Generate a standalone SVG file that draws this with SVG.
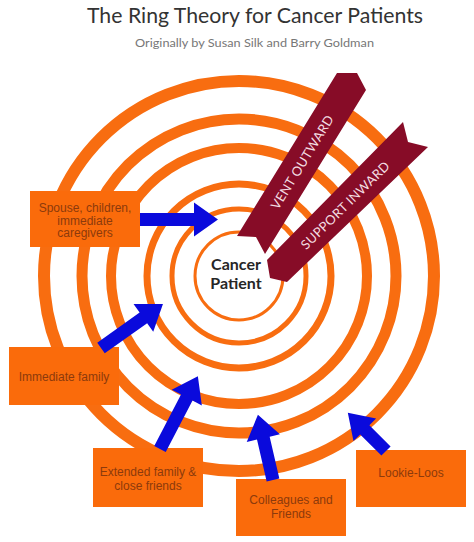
<svg xmlns="http://www.w3.org/2000/svg" width="474" height="542" viewBox="0 0 474 542">
<style>
.ring{fill:none;stroke:#F86D10}
.box{fill:#FA6B0B}
.bt{font-family:"Liberation Sans",Arial,sans-serif;font-size:12px;fill:#8C3A0C;text-anchor:middle}
.arr{fill:#0A0ADC}
.bar{fill:#870C27}
.btxt{font-family:Lato,"Liberation Sans",sans-serif;font-size:13px;fill:#F3DCE1;text-anchor:middle;dominant-baseline:central;letter-spacing:0.3px}
</style>
<rect width="474" height="542" fill="#ffffff"/>
<g id="title">
<text x="255" y="23" font-family="Lato,'Liberation Sans',sans-serif" font-size="21" fill="#333333" text-anchor="middle" textLength="336" lengthAdjust="spacingAndGlyphs">The Ring Theory for Cancer Patients</text>
<text x="254.5" y="47" font-family="Lato,'Liberation Sans',sans-serif" font-size="12" fill="#777777" text-anchor="middle" textLength="239" lengthAdjust="spacingAndGlyphs">Originally by Susan Silk and Barry Goldman</text>
</g>
<g id="rings">
<circle class="ring" cx="239" cy="276" r="195" stroke-width="12"/>
<circle class="ring" cx="239" cy="276" r="157" stroke-width="11"/>
<circle class="ring" cx="239" cy="276" r="128" stroke-width="10"/>
<circle class="ring" cx="239" cy="276" r="92" stroke-width="7"/>
<circle class="ring" cx="239" cy="276" r="67" stroke-width="5"/>
<circle class="ring" cx="239" cy="276" r="44" stroke-width="3"/>
</g>
<g id="cancer-patient">
<text x="236" y="270" font-family="Lato,'Liberation Sans',sans-serif" font-weight="bold" font-size="16" fill="#262626" text-anchor="middle">Cancer</text>
<text x="236" y="289" font-family="Lato,'Liberation Sans',sans-serif" font-weight="bold" font-size="16" fill="#262626" text-anchor="middle">Patient</text>
</g>
<g id="vent-outward">
<polygon class="bar" points="357,73 366,90 265,254 256,237 237,236 337,73"/>
<text class="btxt" transform="translate(302,162) rotate(-58.5)">VENT OUTWARD</text>
</g>
<g id="support-inward">
<polygon class="bar" points="403,122 408,142 428,147 287,282 270,278 267,260"/>
<text class="btxt" transform="translate(345,205) rotate(-44.6)">SUPPORT INWARD</text>
</g>
<g id="spouse">
<rect class="box" x="30" y="191" width="110" height="56"/>
<text class="bt" x="85" y="212" font-size="11">Spouse, children,</text>
<text class="bt" x="85" y="224.6" font-size="11">immediate</text>
<text class="bt" x="85" y="237.2" font-size="11">caregivers</text>
</g>
<g id="immediate-family">
<rect class="box" x="9" y="347" width="110" height="58"/>
<text class="bt" x="64" y="381">Immediate family</text>
</g>
<g id="extended-family">
<rect class="box" x="93" y="448" width="110" height="59"/>
<text class="bt" x="148" y="476">Extended family &amp;</text>
<text class="bt" x="148" y="490">close friends</text>
</g>
<g id="colleagues">
<rect class="box" x="236" y="479" width="110" height="57"/>
<text class="bt" x="291" y="504">Colleagues and</text>
<text class="bt" x="291" y="518">Friends</text>
</g>
<g id="lookie-loos">
<rect class="box" x="356" y="450" width="110" height="57"/>
<text class="bt" x="411" y="477">Lookie-Loos</text>
</g>
<g id="connectors">
<polygon class="arr" transform="translate(140,219.5) rotate(0)" points="0,-6.5 54,-6.5 54,-17 78,0 54,17 54,6.5 0,6.5"/>
<polygon class="arr" transform="translate(101,348) rotate(-35.4)" points="0,-6.5 52,-6.5 52,-17 76,0 52,17 52,6.5 0,6.5"/>
<polygon class="arr" transform="translate(160,449) rotate(-62.5)" points="0,-6.5 58,-6.5 58,-17 82,0 58,17 58,6.5 0,6.5"/>
<polygon class="arr" transform="translate(273,480) rotate(-103)" points="0,-6.5 43,-6.5 43,-17 67,0 43,17 43,6.5 0,6.5"/>
<polygon class="arr" transform="translate(386,451) rotate(-135)" points="0,-6.5 30,-6.5 30,-16 54,0 30,16 30,6.5 0,6.5"/>
</g>
</svg>
